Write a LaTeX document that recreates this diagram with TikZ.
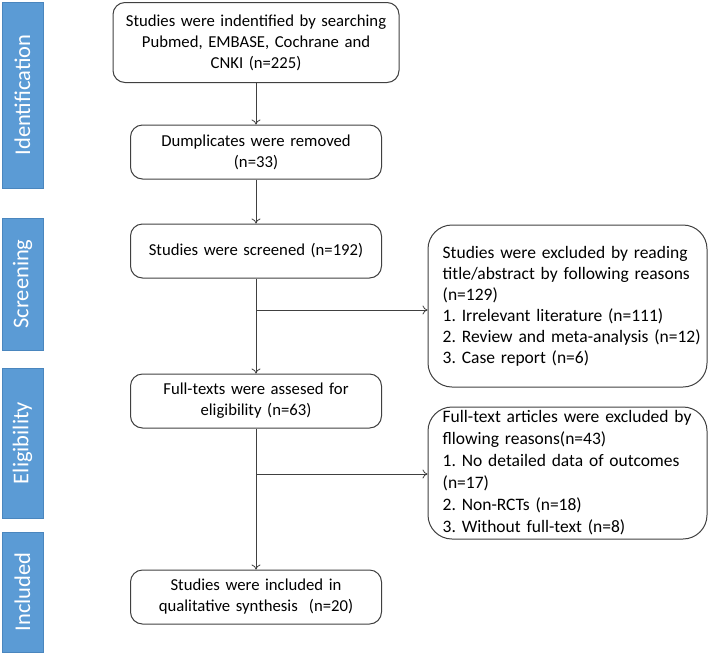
\documentclass[tikz,border=0pt]{standalone}
\usepackage{fontspec}
\setmainfont{Carlito}
\usetikzlibrary{arrows.meta}
\definecolor{linec}{HTML}{404040}
\definecolor{sideblue}{HTML}{5B9BD5}
\definecolor{sideedge}{HTML}{4A86BE}
\frenchspacing
\begin{document}
\begin{tikzpicture}[x=1pt,y=-1pt,
  box/.style={draw=linec, line width=1pt, rounded corners=12pt, align=center,
    font=\fontsize{16.7}{21}\selectfont, inner sep=0pt, text=black},
  exbox/.style={draw=linec, line width=1pt, rounded corners=24pt,
    inner sep=0pt, minimum width=279pt},
  extext/.style={align=left, anchor=west, inner sep=0pt, text width=262pt,
    font=\fontsize{17.5}{21}\selectfont, text=black},
  side/.style={fill=sideblue, draw=sideedge, line width=0.6pt, text=white,
    font=\fontsize{22.5}{26}\selectfont, inner sep=0pt, rotate=90,
    minimum height=41pt},
  arr/.style={draw=linec, line width=0.8pt, -{To[length=5pt,width=9pt]}}
]
\useasboundingbox (0,0) rectangle (709,654);

% side bars
\node[side, minimum width=186pt] (sid) at (22.5,95) {Identification};
\node[side, minimum width=132pt] (ssc) at (22.5,284) {Screening};
\node[side, minimum width=150pt] (sel) at (22.5,443) {Eligibility};
\node[side, minimum width=120pt] (sin) at (22.5,592) {Included};

% main boxes
\node[box, minimum width=286pt, minimum height=80pt, text width=270pt] (b1) at (256,42.5)
  {Studies were indentified by searching\\Pubmed, EMBASE, Cochrane and\\CNKI (n=225)};
\node[box, minimum width=251pt, minimum height=54pt, text width=240pt] (b2) at (256,152)
  {Dumplicates were removed\\(n=33)};
\node[box, minimum width=251pt, minimum height=54pt, text width=240pt] (b3) at (256,251)
  {Studies were screened (n=192)};
\node[box, minimum width=251pt, minimum height=54pt, text width=240pt] (b5) at (256,401)
  {Full-texts were assesed for\\eligibility (n=63)};
\node[box, minimum width=251pt, minimum height=54pt, text width=240pt] (b7) at (256,597)
  {Studies were included in\\qualitative synthesis~ (n=20)};

% exclusion boxes
\node[exbox, minimum height=162pt] (b4) at (567.5,306) {};
\node[extext] (b4t) at ([xshift=15pt]b4.west)
  {Studies were excluded by reading\\title/abstract by following reasons\\(n=129)\\1. Irrelevant literature (n=111)\\2. Review and meta-analysis (n=12)\\3. Case report (n=6)};
\node[exbox, minimum height=132pt] (b6) at (567.5,473) {};
\node[extext, font=\fontsize{17.5}{22}\selectfont] (b6t) at ([xshift=15pt]b6.west)
  {Full-text articles were excluded by\\fllowing reasons(n=43)\\\makebox[249pt][s]{1. No detailed data of outcomes}\\(n=17)\\2. Non-RCTs (n=18)\\3. Without full-text (n=8)};

% connectors
\draw[arr] (b1) -- (b2);
\draw[arr] (b2) -- (b3);
\draw[arr] (b3) -- (b5);
\draw[arr] (b5) -- (b7);
\coordinate (j1) at (256,310);
\coordinate (j2) at (256,474);
\draw[arr] (j1) -- (j1 -| b4.west);
\draw[arr] (j2) -- (j2 -| b6.west);
\end{tikzpicture}
\end{document}
